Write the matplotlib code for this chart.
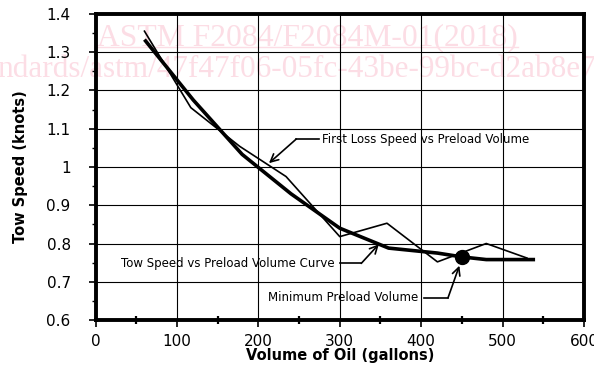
import numpy as np
import matplotlib
matplotlib.use('Agg')
import matplotlib.pyplot as plt
from matplotlib.ticker import MultipleLocator, FormatStrFormatter

## Data
vol = [60, 120, 180, 240, 300, 360, 420, 450, 480, 540]
tow_curve = [1.333, 1.175, 1.033, 0.93, 0.84, 0.788, 0.775, 0.765, 0.758, 0.758]

loss_vol = [60, 117, 177, 234, 300, 358, 420, 480, 530]
loss_speed = [1.355, 1.155, 1.054, 0.975, 0.818, 0.853, 0.752, 0.80, 0.762]

min_vol = 450
min_speed = 0.765

yticks = [0.6, 0.7, 0.8, 0.9, 1.0, 1.1, 1.2, 1.3, 1.4]

fig = plt.figure(figsize=(5.94, 3.67), dpi=100)
ax = fig.add_axes([0.161, 0.128, 0.822, 0.834])

## Watermark
wm = '#fcdde5'
fig.text(0.163, 0.877, 'ASTM F2084/F2084M-01(2018)', family='Liberation Serif',
         fontsize=22.8, color=wm, zorder=-1)
fig.text(-0.005, 0.790, 'ndards/astm/47f47f06-05fc-43be-99bc-d2ab8e7', family='Liberation Serif',
         fontsize=22.5, color=wm, zorder=-1)
fig.add_artist(plt.Line2D([0.163, 0.872], [0.872, 0.872], color=wm, lw=1.0, zorder=-1))

ax.plot(loss_vol, loss_speed, color='black', lw=1.2, zorder=3)
ax.plot(vol, tow_curve, color='black', lw=2.6, zorder=4, solid_capstyle='butt')
ax.plot([min_vol], [min_speed], 'o', color='black', ms=10, zorder=5)

ax.set_xlim(0, 600)
ax.set_ylim(0.6, 1.4)
ax.set_yticks(yticks)
ax.xaxis.set_major_locator(MultipleLocator(100))
ax.xaxis.set_minor_locator(MultipleLocator(50))
ax.yaxis.set_minor_locator(MultipleLocator(0.05))
ax.yaxis.set_major_formatter(FormatStrFormatter('%g'))
ax.grid(True, which='major', color='black', lw=0.8)
ax.set_axisbelow(True)
ax.patch.set_alpha(0)

for s in ax.spines.values():
    s.set_linewidth(2.8)
ax.tick_params(axis='both', which='major', direction='out', length=5, width=1.2,
               labelsize=11)
ax.tick_params(axis='y', which='major', pad=13)
ax.tick_params(axis='x', which='major', pad=5)
ax.tick_params(axis='x', which='minor', direction='inout', length=6, width=1.6)
ax.tick_params(axis='y', which='minor', direction='out', length=3, width=1.0)

ax.set_xlabel('Volume of Oil (gallons)', fontsize=10.5, fontweight='bold', labelpad=-1)
ax.set_ylabel('Tow Speed (knots)', fontsize=10.5, fontweight='bold', labelpad=13)

## Callouts
fs = 8.5
arrow = dict(arrowstyle='->', color='black', lw=1.2, shrinkA=0, shrinkB=0,
             mutation_scale=14)

ax.text(278, 1.073, 'First Loss Speed vs Preload Volume', fontsize=fs, va='center', ha='left')
ax.plot([274, 246.5], [1.073, 1.073], color='black', lw=1.2)
ax.annotate('', xy=(213, 1.01), xytext=(246.5, 1.073), arrowprops=arrow)

ax.text(294, 0.748, 'Tow Speed vs Preload Volume Curve', fontsize=fs, va='center', ha='right')
ax.plot([300, 326.4], [0.748, 0.748], color='black', lw=1.2)
ax.annotate('', xy=(348, 0.798), xytext=(326.4, 0.748), arrowprops=arrow)

ax.text(397, 0.658, 'Minimum Preload Volume', fontsize=fs, va='center', ha='right')
ax.plot([403, 433], [0.658, 0.658], color='black', lw=1.2)
ax.annotate('', xy=(447, 0.742), xytext=(433, 0.658), arrowprops=arrow)

fig.savefig('out.png', dpi=100)
